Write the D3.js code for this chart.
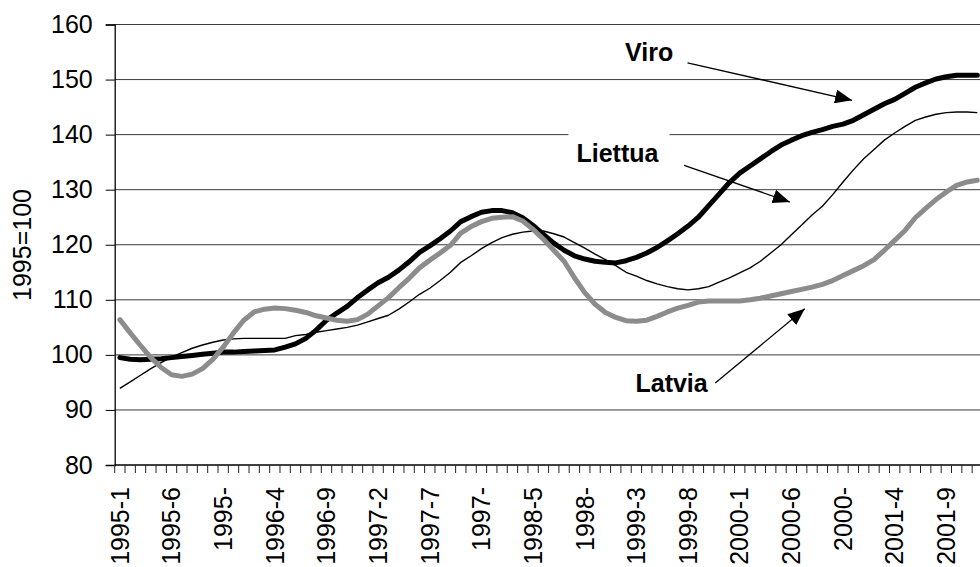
<!DOCTYPE html>
<html>
<head>
<meta charset="utf-8">
<script src="https://cdn.jsdelivr.net/npm/d3@7"></script>
<style>
body { margin: 0; background: #fff; }
text { font-family: "Liberation Sans", Arial, sans-serif; }
</style>
</head>
<body>
<script>
// months 1995-1 .. 2001-12
var years = [1995, 1996, 1997, 1998, 1999, 2000, 2001];
var months = [];
years.forEach(function (yr) {
    for (var m = 1; m <= 12; m++) months.push(yr + "-" + m);
});

var viro = [99.5, 99.2, 99.1, 99.2, 99.3, 99.5, 99.7, 99.9, 100.1, 100.3, 100.5, 100.5, 100.6, 100.7, 100.8, 100.9,
    101.4, 102.0, 103.0, 104.5, 106.3, 107.6, 108.8, 110.4, 111.8, 113.1, 114.1, 115.4, 116.9, 118.6,
    119.8, 121.1, 122.5, 124.2, 125.1, 125.9, 126.2, 126.2, 125.8, 124.9, 123.5, 121.9, 120.3, 119.0,
    118.0, 117.4, 117.0, 116.8, 116.7, 117.1, 117.7, 118.5, 119.5, 120.7, 122.0, 123.4, 125.0, 127.1, 129.2,
    131.3, 133.0, 134.3, 135.6, 136.9, 138.1, 139.0, 139.8, 140.4, 140.9, 141.5, 141.9, 142.6, 143.6, 144.6,
    145.6, 146.4, 147.5, 148.6, 149.4, 150.1, 150.5, 150.8, 150.8, 150.8];

var liettua = [93.9, 95.1, 96.3, 97.5, 98.6, 99.6, 100.4, 101.2, 101.8, 102.3, 102.7, 102.9, 103.0, 103.0, 103.0, 103.0,
    103.0, 103.5, 103.7, 104.1, 104.4, 104.7, 105.0, 105.4, 106.0, 106.6, 107.2, 108.3, 109.6, 111.0,
    112.1, 113.5, 115.0, 116.8, 118.0, 119.3, 120.4, 121.3, 121.9, 122.3, 122.5, 122.5, 122.0, 121.4,
    120.4, 119.4, 118.3, 117.3, 116.2, 115.0, 114.3, 113.5, 112.9, 112.4, 112.0, 111.8, 112.0, 112.4, 113.2,
    114.0, 114.9, 115.8, 117.0,
    118.5, 120.0, 121.8, 123.6, 125.4, 127.0, 129.1, 131.4, 133.6, 135.6, 137.3, 139.0, 140.3, 141.5,
    142.6, 143.2, 143.7, 144.0, 144.1, 144.1, 144.0];

var latvia = [106.4, 104.0, 101.7, 99.5, 97.7, 96.4, 96.1, 96.5, 97.5, 99.2, 101.4, 104.0, 106.3, 107.8, 108.3, 108.5,
    108.4, 108.1, 107.7, 107.1, 106.7, 106.3, 106.1, 106.4, 107.4, 108.9, 110.4, 112.2, 113.9, 115.8,
    117.2, 118.5, 119.9, 122.1, 123.3, 124.2, 124.8, 125.0, 125.1, 124.3, 122.8, 121.0,
    119.0, 117.0, 114.0, 111.3, 109.2, 107.7, 106.8, 106.2, 106.1, 106.3, 107.0, 107.8, 108.5, 109.0,
    109.6, 109.8, 109.8,
    109.8, 109.8, 110.0, 110.3, 110.7, 111.1, 111.5, 111.9, 112.3, 112.8, 113.5, 114.4, 115.3, 116.2,
    117.3, 119.0, 120.8, 122.6, 124.9, 126.6, 128.2, 129.6, 130.8, 131.4, 131.7];

var tickCats = ["1995-1", "1995-6", "1995-11", "1996-4", "1996-9", "1997-2", "1997-7", "1997-12", "1998-5",
    "1998-10", "1999-3", "1999-8", "2000-1", "2000-6", "2000-11", "2001-4", "2001-9"];
var tickLabels = ["1995-1", "1995-6", "1995-", "1996-4", "1996-9", "1997-2", "1997-7", "1997-", "1998-5",
    "1998-", "1999-3", "1999-8", "2000-1", "2000-6", "2000-", "2001-4", "2001-9"];
var yTicks = [80, 90, 100, 110, 120, 130, 140, 150, 160];

var W = 980, H = 567;
var plot = {left: 114.7, right: 982.5, top: 24.5, bottom: 465};

var svg = d3.select("body").append("svg")
    .attr("width", W)
    .attr("height", H);

var x = d3.scaleBand().domain(months).range([plot.left, plot.right]).padding(0);
var y = d3.scaleLinear().domain([80, 160]).range([plot.bottom, plot.top]);
// month position (fractional index) -> pixel
var xi = function (i) { return plot.left + x.bandwidth() * (i + 0.5); };

// gridlines
svg.append("g").selectAll("line")
    .data(yTicks.slice(1))
    .enter().append("line")
    .attr("x1", plot.left).attr("x2", plot.right)
    .attr("y1", function (d) { return y(d); })
    .attr("y2", function (d) { return y(d); })
    .attr("stroke", "#3a3a3a")
    .attr("stroke-width", 1);

// y axis
var yAxis = svg.append("g")
    .attr("transform", "translate(" + plot.left + ",0)")
    .call(d3.axisLeft(y).tickValues(yTicks).tickSize(9).tickPadding(13));
yAxis.select(".domain").attr("stroke", "#000").attr("stroke-width", 1.3);
yAxis.selectAll(".tick line").attr("stroke", "#000");
yAxis.selectAll(".tick text")
    .attr("font-size", 25)
    .attr("fill", "#000")
    .style("font-family", "'Liberation Sans', Arial, sans-serif");

svg.append("text")
    .attr("transform", "translate(31,245) rotate(-90)")
    .attr("text-anchor", "middle")
    .attr("font-size", 25)
    .text("1995=100");

// x axis
svg.append("line")
    .attr("x1", plot.left).attr("x2", plot.right)
    .attr("y1", plot.bottom).attr("y2", plot.bottom)
    .attr("stroke", "#000").attr("stroke-width", 1.3);

var bounds = months.map(function (m) { return x(m); }).concat([plot.right]);
svg.append("g").selectAll("line")
    .data(bounds)
    .enter().append("line")
    .attr("x1", function (d) { return d; })
    .attr("x2", function (d) { return d; })
    .attr("y1", plot.bottom).attr("y2", plot.bottom + 8)
    .attr("stroke", "#222");

svg.append("g").selectAll("text")
    .data(tickCats)
    .enter().append("text")
    .attr("transform", function (d) {
        return "translate(" + (x(d) + x.bandwidth() / 2) + "," + 487 + ") rotate(-90)";
    })
    .attr("text-anchor", "end")
    .attr("dy", "0.35em")
    .attr("font-size", 25)
    .text(function (d, i) { return tickLabels[i]; });

// series
var line = d3.line()
    .x(function (d, i) { return x(months[i]) + x.bandwidth() / 2; })
    .y(function (d) { return y(d); });

svg.append("path").datum(viro)
    .attr("d", line).attr("fill", "none")
    .attr("stroke", "#000").attr("stroke-width", 5)
    .attr("stroke-linejoin", "round").attr("stroke-linecap", "round");
svg.append("path").datum(liettua)
    .attr("d", line).attr("fill", "none")
    .attr("stroke", "#000").attr("stroke-width", 1.4)
    .attr("stroke-linejoin", "round");
svg.append("path").datum(latvia)
    .attr("d", line).attr("fill", "none")
    .attr("stroke", "#8c8c8c").attr("stroke-width", 5)
    .attr("stroke-linejoin", "round").attr("stroke-linecap", "round");

// annotations (positions in month index / value units)
svg.append("defs").append("marker")
    .attr("id", "head")
    .attr("markerUnits", "userSpaceOnUse")
    .attr("markerWidth", 18).attr("markerHeight", 14)
    .attr("refX", 17).attr("refY", 7)
    .attr("orient", "auto")
    .append("path")
    .attr("d", "M0,0 L17,7 L0,14 Z")
    .attr("fill", "#000");

var notes = [
    {text: "Viro", ti: 49.4, tv: 153.45, a0: [55.45, 153.04], a1: [71.38, 146.24]},
    {text: "Liettua", ti: 44.7, tv: 134.96, a0: [55.12, 134.42], a1: [65.35, 127.76]},
    {text: "Latvia", ti: 50.41, tv: 93.33, a0: [58.13, 94.91], a1: [66.8, 108.36]}
];

notes.forEach(function (n) {
    var g = svg.append("g");
    var bg = g.append("rect").attr("fill", "#fff");
    var t = g.append("text")
        .attr("x", xi(n.ti) - x.bandwidth() / 2)
        .attr("y", y(n.tv))
        .attr("font-size", 25)
        .attr("font-weight", "bold")
        .text(n.text);
    var bb = t.node().getBBox();
    bg.attr("x", bb.x - 8).attr("y", bb.y - 7)
        .attr("width", bb.width + 18).attr("height", bb.height + 14);
    svg.append("line")
        .attr("x1", xi(n.a0[0]) - x.bandwidth() / 2).attr("y1", y(n.a0[1]))
        .attr("x2", xi(n.a1[0]) - x.bandwidth() / 2).attr("y2", y(n.a1[1]))
        .attr("stroke", "#000").attr("stroke-width", 1.3)
        .attr("marker-end", "url(#head)");
});
</script>
</body>
</html>
